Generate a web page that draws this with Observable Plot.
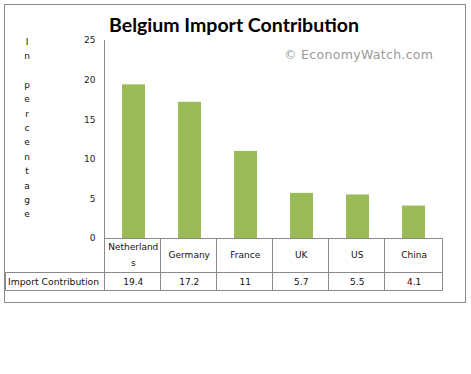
<!DOCTYPE html>
<html><head><meta charset="utf-8">
<script src="https://cdn.jsdelivr.net/npm/d3@7"></script>
<script src="https://cdn.jsdelivr.net/npm/@observablehq/plot@0.6"></script>
<style>body{margin:0;background:#fff}</style>
</head><body><div id="chart"></div>
<script>
const countries = ["Netherlands", "Germany", "France", "UK", "US", "China"];
const values = [19.4, 17.2, 11, 5.7, 5.5, 4.1];
const valueLabels = ["19.4", "17.2", "11", "5.7", "5.5", "4.1"];
const yTicks = [0, 5, 10, 15, 20, 25];
const titleText = "Belgium Import Contribution";
const watermarkText = "© EconomyWatch.com";
const yLabelText = "In percentage";
const rowLabel = "Import Contribution";

const FONT = "DejaVu Sans";
const plot = Plot.plot({
  width: 471, height: 374,
  marginLeft: 104, marginRight: 28, marginTop: 40, marginBottom: 136,
  style: {fontFamily: FONT, fontSize: "9px", background: "white", color: "#222"},
  x: {domain: countries, paddingInner: 0.59, paddingOuter: 0.295, axis: null},
  y: {domain: [0, 25], ticks: yTicks, tickSize: 0, tickPadding: 9, label: null},
  marks: [
    Plot.barY(countries, {x: d => d, y: (d, i) => values[i], fill: "#9BBB59"})
  ]
});
document.getElementById("chart").appendChild(plot);

const svg = d3.select(plot);
const xs = plot.scale("x"), ys = plot.scale("y");
const n = countries.length;
const step = (xs.range[1] - xs.range[0]) / n;
const edge = i => i < n ? xs.apply(countries[i]) - (step - xs.bandwidth) / 2 : xs.range[1];
const vx = v => Math.round(v) - 0.5;
const y0 = Math.floor(ys.apply(0)) + 0.5;
const yTop = ys.apply(25);
const row1 = y0 + 34, row2 = y0 + 52;
const lineColor = "#8a8a8a";
const g = svg.append("g").attr("stroke", lineColor).attr("fill", "none");
// outer frame
g.append("rect").attr("x", 4.5).attr("y", 4.5).attr("width", 461).attr("height", 298);
// axis line
g.append("line").attr("x1", vx(edge(0))).attr("x2", vx(edge(0))).attr("y1", yTop).attr("y2", row2);
// table horizontals
g.append("line").attr("x1", vx(edge(0))).attr("x2", vx(edge(n))).attr("y1", y0).attr("y2", y0);
g.append("line").attr("x1", 5.5).attr("x2", vx(edge(n))).attr("y1", row1).attr("y2", row1);
g.append("line").attr("x1", 5.5).attr("x2", vx(edge(n))).attr("y1", row2).attr("y2", row2);
g.append("line").attr("x1", 5.5).attr("x2", 5.5).attr("y1", row1).attr("y2", row2);
for (let i = 1; i <= n; i++) {
  g.append("line").attr("x1", vx(edge(i))).attr("x2", vx(edge(i))).attr("y1", y0).attr("y2", row2);
}
// wrap helper
const ctx = document.createElement("canvas").getContext("2d");
ctx.font = `9px "${FONT}"`;
function wrap(s, w) {
  const lines = []; let cur = "";
  for (const ch of s) {
    if (ctx.measureText(cur + ch).width > w && cur) { lines.push(cur); cur = ch; } else cur += ch;
  }
  lines.push(cur); return lines;
}
const tg = svg.append("g").attr("font-family", FONT).attr("font-size", 9).attr("fill", "#111");
countries.forEach((c, i) => {
  const cx = (edge(i) + edge(i + 1)) / 2;
  const lines = wrap(c, step - 4);
  const mid = (y0 + row1) / 2;
  lines.forEach((l, j) => {
    tg.append("text").attr("x", cx).attr("y", mid + (j - (lines.length - 1) / 2) * 16)
      .attr("text-anchor", "middle").attr("dominant-baseline", "middle").text(l);
  });
  tg.append("text").attr("x", cx).attr("y", (row1 + row2) / 2 + 1)
    .attr("text-anchor", "middle").attr("dominant-baseline", "middle").text(valueLabels[i]);
});
tg.append("text").attr("x", 8).attr("y", (row1 + row2) / 2 + 1).attr("dominant-baseline", "middle")
  .attr("text-anchor", "start")
  .attr("textLength", 91).attr("lengthAdjust", "spacingAndGlyphs").text(rowLabel);
// y label letters
[...yLabelText].forEach((ch, i) => {
  tg.append("text").attr("x", 27).attr("y", 42 + i * 14.4).attr("text-anchor", "middle")
    .attr("dominant-baseline", "middle").text(ch);
});
// title
svg.append("text").attr("x", 234).attr("y", 32).attr("text-anchor", "middle")
  .attr("font-family", "Lato").attr("font-weight", "bold").attr("font-size", 19.5).attr("fill", "#000")
  .text(titleText);
// watermark
svg.append("text").attr("x", 284).attr("y", 59).attr("font-family", FONT).attr("font-size", 12.5)
  .attr("text-anchor", "start")
  .attr("fill", "#9a9a9a").attr("textLength", 149).attr("lengthAdjust", "spacing").text(watermarkText);
</script></body></html>
